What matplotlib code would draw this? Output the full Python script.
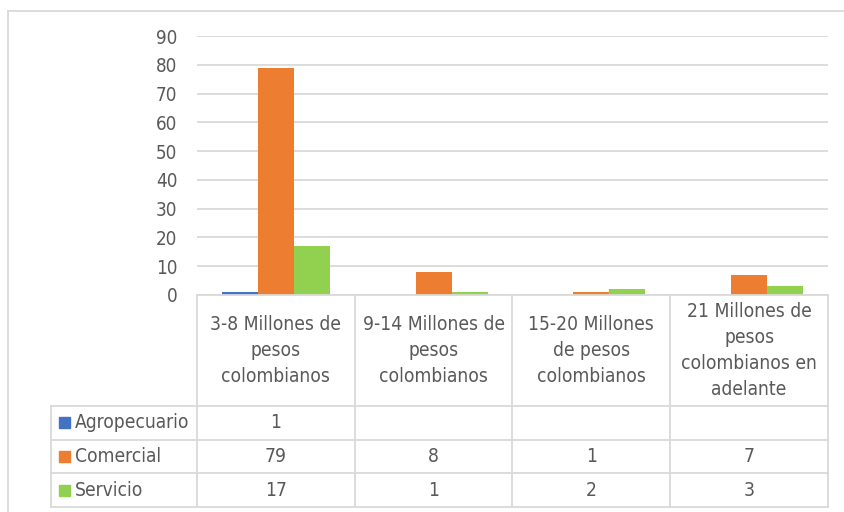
import matplotlib
matplotlib.use("Agg")
import matplotlib.pyplot as plt
import numpy as np
from matplotlib.patches import Rectangle

plt.rcParams['font.family'] = ['DejaVu Sans']
plt.rcParams['font.stretch'] = 'condensed'

# data
categories = ["3-8 Millones de\npesos\ncolombianos",
              "9-14 Millones de\npesos\ncolombianos",
              "15-20 Millones\nde pesos\ncolombianos",
              "21 Millones de\npesos\ncolombianos en\nadelante"]
series = ["Agropecuario", "Comercial", "Servicio"]
agropecuario = [1, None, None, None]
comercial = [79, 8, 1, 7]
servicio = [17, 1, 2, 3]
colors = ["#4472C4", "#ED7D31", "#92D050"]
yticks = [0, 10, 20, 30, 40, 50, 60, 70, 80, 90]

W, H = 845, 512
fig = plt.figure(figsize=(W / 100, H / 100), dpi=100)
text_color = "#595959"
grid_color = "#D9D9D9"
fs = 13.8

# plot area in pixels
px_left, px_right, px_top, px_bot = 197, 828, 36, 295
ax = fig.add_axes([px_left / W, 1 - px_bot / H, (px_right - px_left) / W, (px_bot - px_top) / H])

x = np.arange(len(categories))
bw = 0.228
all_series = [agropecuario, comercial, servicio]
for i, (name, vals) in enumerate(zip(series, all_series)):
    v = [0 if a is None else a for a in vals]
    ax.bar(x + (i - 1) * bw, v, width=bw, color=colors[i], zorder=3)

ax.set_xlim(-0.5, len(categories) - 0.5)
ax.set_ylim(0, 90)
ax.set_yticks(yticks)
ax.set_yticklabels([str(t) for t in yticks], fontsize=13.5, color=text_color)
ax.tick_params(axis='y', length=0, pad=14)
ax.set_xticks([])
ax.grid(axis='y', color=grid_color, linewidth=1.3, zorder=0)
for s in ax.spines.values():
    s.set_visible(False)

# overlay for data table, in pixel coordinates
ov = fig.add_axes([0, 0, 1, 1], zorder=5)
ov.set_xlim(0, W)
ov.set_ylim(H, 0)
ov.axis('off')
ov.patch.set_alpha(0)

# outer chart frame
ov.plot([8, W], [11, 11], color=grid_color, lw=1.3)
ov.plot([8, 8], [11, H], color=grid_color, lw=1.3)

ncol = len(categories)
col_w = (px_right - px_left) / ncol
col_edges = [px_left + k * col_w for k in range(ncol + 1)]
label_left = 51
row_edges = [406, 439.5, 473, 507]

line_kw = dict(color=grid_color, lw=1.3)
ov.plot([px_left, px_right], [px_bot, px_bot], **line_kw)
for xe in col_edges:
    ov.plot([xe, xe], [px_bot, row_edges[-1]], **line_kw)
ov.plot([label_left, label_left], [row_edges[0], row_edges[-1]], **line_kw)
for ye in row_edges:
    ov.plot([label_left, px_right], [ye, ye], **line_kw)

# header texts
for k, cat in enumerate(categories):
    cx = (col_edges[k] + col_edges[k + 1]) / 2
    ov.text(cx, (px_bot + row_edges[0]) / 2, cat, ha='center', va='center',
            fontsize=fs, color=text_color, linespacing=1.45)

# rows
for r, (name, vals) in enumerate(zip(series, all_series)):
    cy = (row_edges[r] + row_edges[r + 1]) / 2
    ov.add_patch(Rectangle((59, cy - 5.5), 11, 11, color=colors[r]))
    ov.text(75, cy, name, ha='left', va='center', fontsize=fs, color=text_color)
    for k, v in enumerate(vals):
        if v is None:
            continue
        cx = (col_edges[k] + col_edges[k + 1]) / 2
        ov.text(cx, cy, str(v), ha='center', va='center', fontsize=fs, color=text_color)

fig.savefig("out.png", dpi=100)
